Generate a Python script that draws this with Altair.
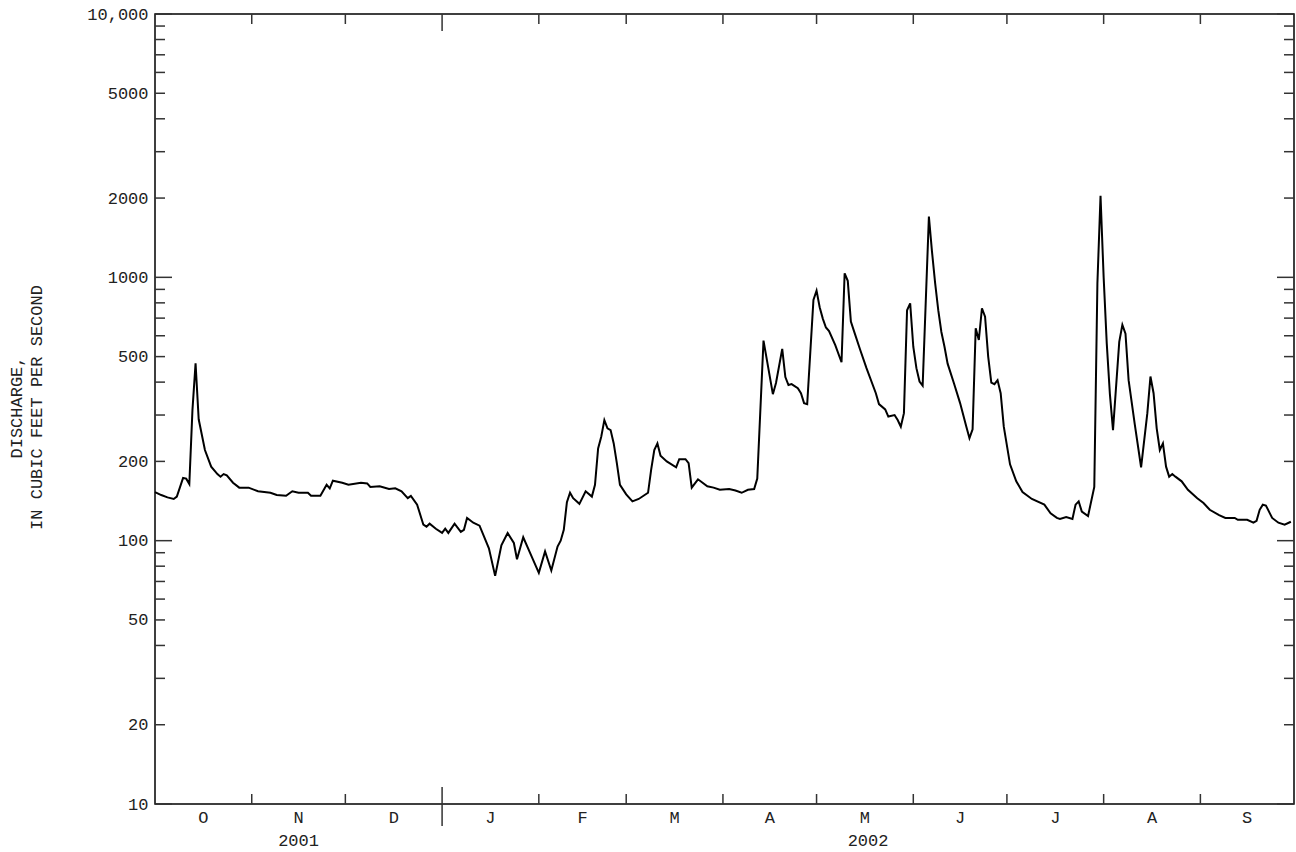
import altair as alt
import pandas as pd

# ---- data: day offset from 2001-10-01 and discharge (ft3/s)
day_offsets = [
    0, 2, 4, 6, 7, 9, 10, 11, 12, 13, 14, 16, 18, 20, 21, 22, 23, 25, 27, 30,
    33, 37, 39, 42, 44, 46, 49, 50, 53, 55, 56, 57, 60, 62, 66, 68, 69, 72, 75, 77,
    79, 81, 82, 84, 86, 87, 88, 90, 92, 93, 94, 96, 98, 99, 100, 102, 104, 107, 109, 111,
    113, 115, 116, 118, 121, 123, 125, 127, 129, 130, 131, 132, 133, 134, 136, 138, 140, 141, 142, 143,
    144, 145, 146, 147, 148, 149, 151, 153, 155, 158, 159, 160, 161, 162, 164, 167, 168, 170, 171, 172,
    174, 177, 179, 181, 184, 186, 188, 190, 192, 193, 195, 198, 199, 201, 202, 203, 204, 206, 207, 208,
    209, 211, 212, 213, 214, 215, 216, 218, 220, 221, 222, 223, 224, 226, 228, 231, 232, 234, 235, 237,
    238, 239, 240, 241, 242, 243, 244, 245, 246, 248, 249, 250, 251, 252, 253, 254, 256, 258, 260, 261,
    262, 263, 264, 265, 266, 267, 268, 269, 270, 271, 272, 274, 276, 278, 281, 285, 287, 289, 290, 292,
    294, 295, 296, 297, 299, 301, 302, 303, 304, 305, 306, 307, 309, 310, 311, 312, 314, 316, 318, 319,
    320, 321, 322, 323, 324, 325, 326, 327, 329, 331, 334, 336, 338, 341, 343, 346, 347, 350, 352, 353,
    354, 355, 356, 358, 360, 362, 364,
]
discharge = [
    153, 149, 146, 144, 147, 173, 172, 164, 313, 472, 289, 221, 191, 179, 175, 179, 177, 166, 159, 159,
    154, 152, 149, 148, 154, 152, 152, 148, 148, 163, 158, 169, 166, 163, 166, 165, 160, 161, 157, 158,
    154, 145, 148, 137, 115, 113, 116, 111, 107, 111, 107, 116, 108, 110, 122, 117, 114, 93.5, 73.5, 96,
    107, 98, 85, 103, 85.5, 75.5, 91, 77, 95, 100, 110, 140, 152, 145, 138, 154, 147, 163, 224, 248,
    287, 267, 263, 234, 197, 163, 150, 141, 144, 152, 186, 221, 234, 210, 200, 190, 204, 204, 197, 159,
    171, 161, 159, 156, 157, 155, 152, 156, 157, 172, 575, 360, 397, 535, 418, 390, 393, 379, 363, 333,
    330, 820, 890, 770, 697, 645, 625, 553, 476, 1036, 970, 679, 625, 530, 452, 363, 330, 315, 296, 300,
    287, 271, 305, 750, 796, 545, 452, 402, 388, 1700, 1250, 950, 750, 620, 545, 470, 397, 333, 271, 245,
    265, 641, 578, 763, 709, 500, 398, 393, 407, 363, 271, 195, 168, 153, 144, 137, 127, 122, 121, 123,
    121, 137, 141, 129, 124, 160, 950, 2040, 1000, 560, 360, 263, 569, 660, 611, 407, 275, 190, 305, 420,
    363, 267, 221, 234, 191, 175, 179, 175, 168, 156, 145, 139, 131, 125, 122, 122, 120, 120, 117, 119,
    131, 137, 136, 122, 117, 115, 118,
]

month_labels = ["O", "N", "D", "J", "F", "M", "A", "M", "J", "J", "A", "S"]
year_labels = ["2001", "2002"]
y_label_values = [10, 20, 50, 100, 200, 500, 1000, 2000, 5000, 10000]
y_major_ticks = [10, 100, 1000, 10000]
y_minor_ticks = [k * 10 ** n for n in (1, 2, 3) for k in range(2, 10)]

# ---- tables built from the lists
start = pd.Timestamp("2001-10-01")
fmt = "%Y-%m-%dT%H:%M:%S"
flow = pd.DataFrame({
    "date": [(start + pd.Timedelta(days=d)).strftime(fmt) for d in day_offsets],
    "q": discharge,
})
bounds = pd.date_range("2001-10-01", "2002-10-01", freq="MS")
month_df = pd.DataFrame({
    "mid": [(bounds[i] + (bounds[i + 1] - bounds[i]) / 2).strftime(fmt) for i in range(12)],
    "lab": month_labels,
})
inner = [b for b in bounds[1:12]]
tick_df = pd.DataFrame({"date": [b.strftime(fmt) for b in inner if b.month != 1]})
year_tick_df = pd.DataFrame({"date": [b.strftime(fmt) for b in inner if b.month == 1]})
ybreak = pd.Timestamp("2002-01-01")
year_df = pd.DataFrame({
    "mid": [(bounds[0] + (ybreak - bounds[0]) / 2).strftime(fmt),
            (ybreak + (bounds[12] - ybreak) / 2).strftime(fmt)],
    "lab": year_labels,
})
major_df = pd.DataFrame({"v": y_major_ticks})
minor_df = pd.DataFrame({"v": y_minor_ticks})

W, H = 1139, 790
FONT = "'Courier New', Courier, 'Nimbus Mono PS', 'Nimbus Mono L', FreeMono, 'Liberation Mono', monospace"
FS = 17
TXT = "#222"
TICK = "#333"

x_scale = alt.Scale(domain=[alt.DateTime(year=2001, month=10, date=1),
                            alt.DateTime(year=2002, month=10, date=1)], nice=False)
y_scale = alt.Scale(type="log", domain=[10, 10000], nice=False)

y_axis = alt.Axis(
    values=y_label_values, ticks=False, domain=False, grid=False,
    labelExpr="datum.value == 10000 ? '10,000' : format(datum.value, 'd')",
    labelFont=FONT, labelFontSize=FS, labelColor=TXT, labelPadding=7,
    labelOverlap=False,
    title=["DISCHARGE,", "IN CUBIC FEET PER SECOND"],
    titleFont=FONT, titleFontSize=FS, titleFontWeight="normal", titleColor=TXT,
    titleAngle=270, titleAlign="center", titleBaseline="middle",
    titleX=-139, titleY=393, titleLineHeight=20,
)

def yenc(field):
    return alt.Y(field, type="quantitative", scale=y_scale, axis=y_axis)

def xenc(field):
    return alt.X(field, type="temporal", scale=x_scale, axis=None)

line = alt.Chart(flow).mark_line(color="black", strokeWidth=2).encode(
    x=xenc("date"), y=yenc("q"))

def yticks(df, length):
    left = alt.Chart(df).mark_rule(color=TICK, strokeWidth=1.5).encode(
        y=yenc("v"), x=alt.value(0), x2=alt.value(length))
    right = alt.Chart(df).mark_rule(color=TICK, strokeWidth=1.5).encode(
        y=yenc("v"), x=alt.value(W), x2=alt.value(W - length))
    return [left, right]

def xticks(df, top_len, bot_up, bot_down, width):
    bottom = alt.Chart(df).mark_rule(color=TICK, strokeWidth=width).encode(
        x=xenc("date"), y=alt.value(H - bot_up), y2=alt.value(H + bot_down))
    top = alt.Chart(df).mark_rule(color=TICK, strokeWidth=width).encode(
        x=xenc("date"), y=alt.value(0), y2=alt.value(top_len))
    return [bottom, top]

month_text = alt.Chart(month_df).mark_text(
    font=FONT, fontSize=FS, color=TXT, baseline="alphabetic", align="center").encode(
    x=xenc("mid"), y=alt.value(H + 19), text="lab:N")
year_text = alt.Chart(year_df).mark_text(
    font=FONT, fontSize=FS, color=TXT, baseline="alphabetic", align="center").encode(
    x=xenc("mid"), y=alt.value(H + 42), text="lab:N")

layers = [line]
layers += yticks(major_df, 17)
layers += yticks(minor_df, 10)
layers += xticks(tick_df, 10, 10, 0, 1.5)
layers += xticks(year_tick_df, 17, 17, 22, 1.5)
layers += [month_text, year_text]

chart = alt.layer(*layers).properties(
    width=W, height=H,
    autosize=alt.AutoSizeParams(type="none"),
    padding={"left": 155, "top": 14, "right": 2, "bottom": 48},
    background="white",
).configure_view(stroke="black", strokeWidth=1.5)

chart.save("out.html", embed_options={"renderer": "svg", "actions": False})
